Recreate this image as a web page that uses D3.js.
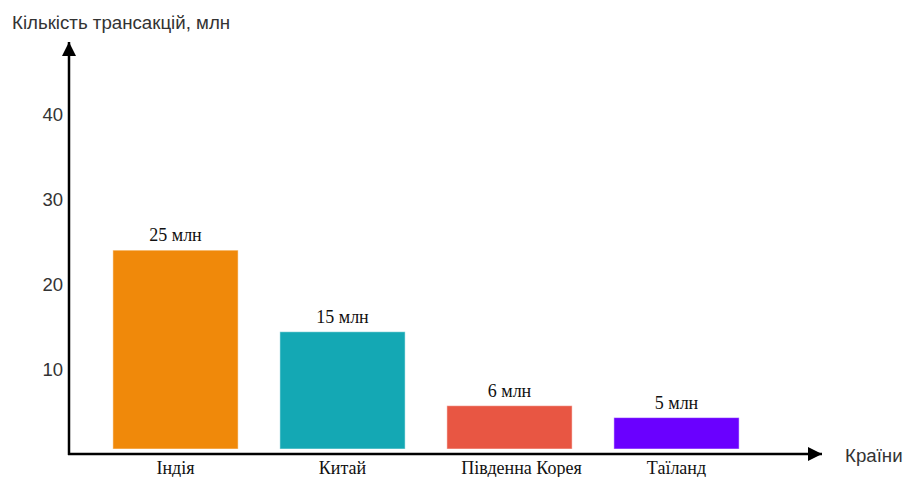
<!DOCTYPE html>
<html>
<head>
<meta charset="utf-8">
<script src="https://cdn.jsdelivr.net/npm/d3@7"></script>
<style>
  body { margin: 0; background: #fff; }
  svg { display: block; }
</style>
</head>
<body>
<div id="chart"></div>
<script>
// Countries and transaction counts (millions)
const countries = ["Індія", "Китай", "Південна Корея", "Таїланд"];
const barValues = [24.1, 14.5, 5.8, 4.4];
const valueLabels = ["25 млн", "15 млн", "6 млн", "5 млн"];
const barColors = ["#f0890a", "#14a8b4", "#e85643", "#6a00ff"];
const yTicks = [10, 20, 30, 40];

const width = 905, height = 477;
const serif = "'Liberation Serif', 'Times New Roman', serif";
const sans = "'Liberation Sans', Arial, sans-serif";

const svg = d3.select("#chart").append("svg")
  .attr("width", width)
  .attr("height", height);

const x = d3.scaleBand()
  .domain(countries)
  .range([92, 760])
  .paddingInner(0.25)
  .paddingOuter(0.125);

const y = d3.scaleLinear()
  .domain([0, 10])
  .range([455, 370]);

const defs = svg.append("defs");
defs.append("marker")
  .attr("id", "arrow")
  .attr("viewBox", "0 0 10 10")
  .attr("refX", 10).attr("refY", 5)
  .attr("markerUnits", "userSpaceOnUse")
  .attr("markerWidth", 15).attr("markerHeight", 14)
  .attr("orient", "auto")
  .append("path")
  .attr("d", "M0,0 L10,5 L0,10 Z")
  .attr("fill", "#000");

// bars (sit slightly above the axis line, as in the original)
const data = countries.map((c, i) => ({ c, v: barValues[i], label: valueLabels[i], color: barColors[i] }));

svg.append("g")
  .selectAll("rect")
  .data(data)
  .join("rect")
  .attr("x", d => x(d.c))
  .attr("y", d => y(d.v))
  .attr("width", x.bandwidth())
  .attr("height", d => y(0) - 6 - y(d.v))
  .attr("fill", d => d.color)
  .attr("stroke", "#fff")
  .attr("stroke-opacity", 0.5)
  .attr("stroke-width", 1);

svg.append("g")
  .selectAll("text")
  .data(data)
  .join("text")
  .attr("x", d => x(d.c) + x.bandwidth() / 2)
  .attr("y", d => y(d.v) - 9)
  .attr("text-anchor", "middle")
  .attr("font-family", serif)
  .attr("font-size", 18)
  .attr("fill", "#111")
  .text(d => d.label);

// axes
svg.append("line")
  .attr("x1", 69).attr("y1", y(0))
  .attr("x2", 69).attr("y2", 42)
  .attr("stroke", "#000")
  .attr("stroke-width", 2.5)
  .attr("marker-end", "url(#arrow)");

svg.append("line")
  .attr("x1", 68).attr("y1", 454)
  .attr("x2", 822).attr("y2", 454)
  .attr("stroke", "#000")
  .attr("stroke-width", 2.5)
  .attr("marker-end", "url(#arrow)");

svg.append("g")
  .selectAll("text")
  .data(yTicks)
  .join("text")
  .attr("x", 63)
  .attr("y", d => y(d))
  .attr("dy", "0.35em")
  .attr("text-anchor", "end")
  .attr("font-family", sans)
  .attr("font-size", 18.5)
  .attr("fill", "#333")
  .text(d => d);

// category labels; the long one sits a little right of its bar in the original
svg.append("g")
  .selectAll("text")
  .data(countries)
  .join("text")
  .attr("x", d => x(d) + x.bandwidth() / 2 + (d === "Південна Корея" ? 12 : 0))
  .attr("y", 474)
  .attr("text-anchor", "middle")
  .attr("font-family", serif)
  .attr("font-size", 18)
  .attr("fill", "#111")
  .text(d => d);

svg.append("text")
  .attr("x", 12).attr("y", 29)
  .attr("font-family", sans)
  .attr("font-size", 18.7)
  .attr("fill", "#333")
  .text("Кількість трансакцій, млн");

svg.append("text")
  .attr("x", 845).attr("y", 455)
  .attr("dy", "0.35em")
  .attr("font-family", sans)
  .attr("font-size", 18.7)
  .attr("fill", "#333")
  .text("Країни");
</script>
</body>
</html>
